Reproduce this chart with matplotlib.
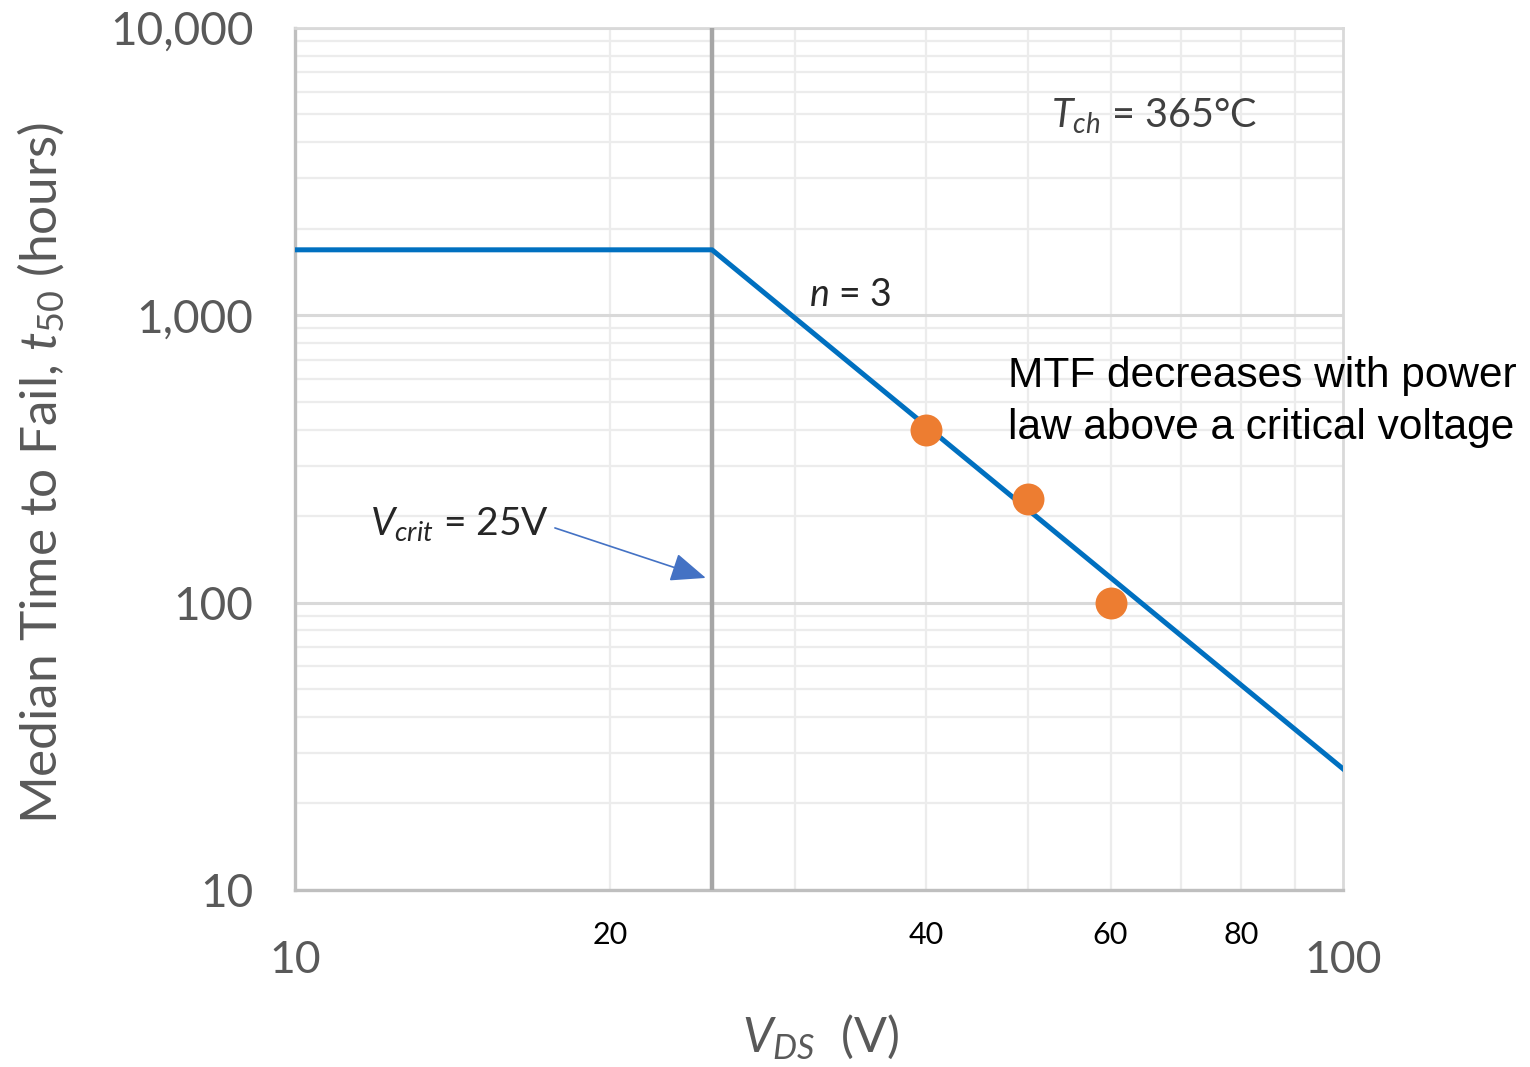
import numpy as np
import matplotlib
matplotlib.use('Agg')
import matplotlib.pyplot as plt
from matplotlib.ticker import FixedLocator, FuncFormatter, NullFormatter

plt.rcParams['font.family'] = ['Lato', 'DejaVu Sans']
plt.rcParams['mathtext.fontset'] = 'custom'
plt.rcParams['mathtext.rm'] = 'Lato'
plt.rcParams['mathtext.it'] = 'Lato:italic'

# MTF model line (flat below Vcrit, power law n=3 above)
v_line = [10, 25, 100]
t_line = [1690, 1690, 26.4]
# measured points
v_pts = [40, 50, 60]
t_pts = [400, 230, 100]

v_crit = 25
y_ticks = [10, 100, 1000, 10000]
x_major = [10, 100]
x_minor = [20, 30, 40, 50, 60, 70, 80, 90]
x_minor_labels = [20, 40, 60, 80]

fig = plt.figure(figsize=(15.3, 10.67), dpi=100)
ax = fig.add_axes([0.1928, 0.1659, 0.685, 0.8079])

ax.set_xscale('log')
ax.set_yscale('log')
ax.set_xlim(10, 100)
ax.set_ylim(10, 10000)

# grid
ax.yaxis.set_major_locator(FixedLocator(y_ticks))
ax.yaxis.set_minor_locator(FixedLocator([m * 10**k for k in range(1, 4) for m in range(2, 10)]))
ax.xaxis.set_major_locator(FixedLocator(x_major))
ax.xaxis.set_minor_locator(FixedLocator(x_minor))
ax.grid(which='minor', color='#ececec', lw=1.6)
ax.grid(which='major', axis='y', color='#d9d9d9', lw=2.2)
ax.set_axisbelow(True)

ax.yaxis.set_major_formatter(FuncFormatter(lambda v, p: f'{int(v):,}'))
ax.yaxis.set_minor_formatter(NullFormatter())
ax.xaxis.set_major_formatter(FuncFormatter(lambda v, p: f'{int(v)}'))
ax.xaxis.set_minor_formatter(FuncFormatter(lambda v, p: f'{int(round(v))}' if int(round(v)) in x_minor_labels else ''))

ax.tick_params(which='both', length=0)
ax.tick_params(axis='y', which='major', labelsize=33, labelcolor='#595959', pad=30)
ax.tick_params(axis='x', which='major', labelsize=32, labelcolor='#595959', pad=36)
ax.tick_params(axis='x', which='minor', labelsize=22, labelcolor='black', pad=22)

for s in ['left', 'bottom']:
    ax.spines[s].set_color('#bfbfbf')
    ax.spines[s].set_linewidth(2.4)
for s in ['top', 'right']:
    ax.spines[s].set_color('#d9d9d9')
    ax.spines[s].set_linewidth(2.0)

ax.axvline(v_crit, color='#a6a6a6', lw=3.2, zorder=3)
ax.plot(v_line, t_line, color='#0070c0', lw=3.6, zorder=4)
ax.plot(v_pts, t_pts, 'o', color='#ed7d31', ms=23, mec='none', zorder=5)

ax.set_xlabel(r'$V_{DS}$  (V)', fontsize=35, color='#595959')
ax.xaxis.set_label_coords(0.501, -0.141)
ax.set_ylabel(r'Median Time to Fail, $t_{50}$ (hours)', fontsize=37, color='#595959')
ax.yaxis.set_label_coords(-0.218, 0.484)

ax.text(0.82, 0.898, r'$T_{ch}$ = 365°C', transform=ax.transAxes, fontsize=28.5,
        color='#404040', ha='center', va='center')
ax.text(0.53, 0.69, r'$n$ = 3', transform=ax.transAxes, fontsize=27,
        color='#262626', ha='center', va='center')
ax.text(0.157, 0.424, r'$V_{crit}$ = 25V', transform=ax.transAxes, fontsize=28,
        color='#262626', ha='center', va='center')
ax.annotate('', xy=(0.392, 0.362), xytext=(0.248, 0.42), xycoords='axes fraction',
            arrowprops=dict(arrowstyle='-|>,head_length=2.2,head_width=0.9',
                            color='#4472c4', lw=1.2, shrinkA=0, shrinkB=0))
ax.text(0.68, 0.566, 'MTF decreases with power\nlaw above a critical voltage',
        transform=ax.transAxes, fontsize=30.5, color='black', ha='left', va='center',
        family=['Liberation Sans', 'DejaVu Sans'],
        linespacing=1.38, clip_on=False)

fig.savefig('out.png', dpi=100)
